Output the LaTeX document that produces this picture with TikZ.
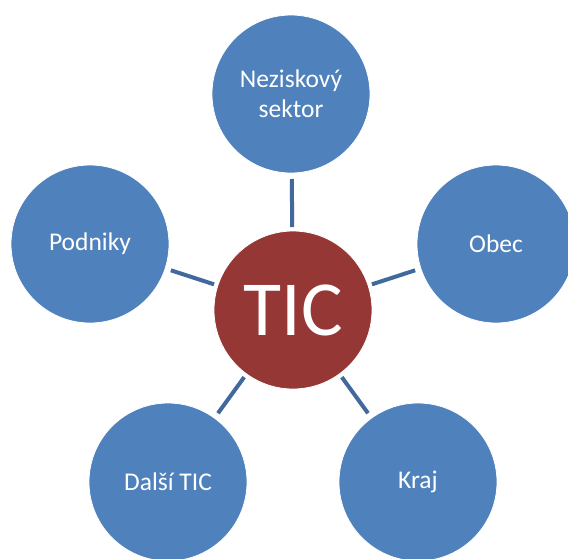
\documentclass[tikz,border=0pt]{standalone}
\usepackage{fontspec}
\setmainfont{Carlito}
\definecolor{ticblue}{HTML}{4F81BD}
\definecolor{ticred}{HTML}{953735}
\definecolor{ticline}{HTML}{41699C}
\begin{document}
\begin{tikzpicture}
 [x=1pt,y=-1pt,every node/.style={circle,fill=ticblue,draw=white,line width=0.8pt,text=white,
   minimum size=158pt,inner sep=0pt,outer sep=0pt,align=center,font=\fontsize{25.5}{30}\selectfont}]
  \useasboundingbox (0,0) rectangle (568,558);
  \clip (0,0) rectangle (568,558);
  \node (tic)[fill=ticred,font=\fontsize{78}{80}\selectfont] at (293,310) {TIC};
  \node (nsektor) at (291,94)  {Neziskový\\sektor};
  \node (npodniky) at (90,244)  {Podniky};
  \node (nobec) at (496,244)  {Obec};
  \node (ndalsi) at (168,482)  {Další TIC};
  \node (nkraj) at (418,482)  {Kraj};

  \foreach \to in {nsektor,npodniky,nobec,ndalsi,nkraj}
    \draw[ticline,line width=4pt,shorten <=4pt,shorten >=6pt] (tic) -- (\to);


\end{tikzpicture}
\end{document}
